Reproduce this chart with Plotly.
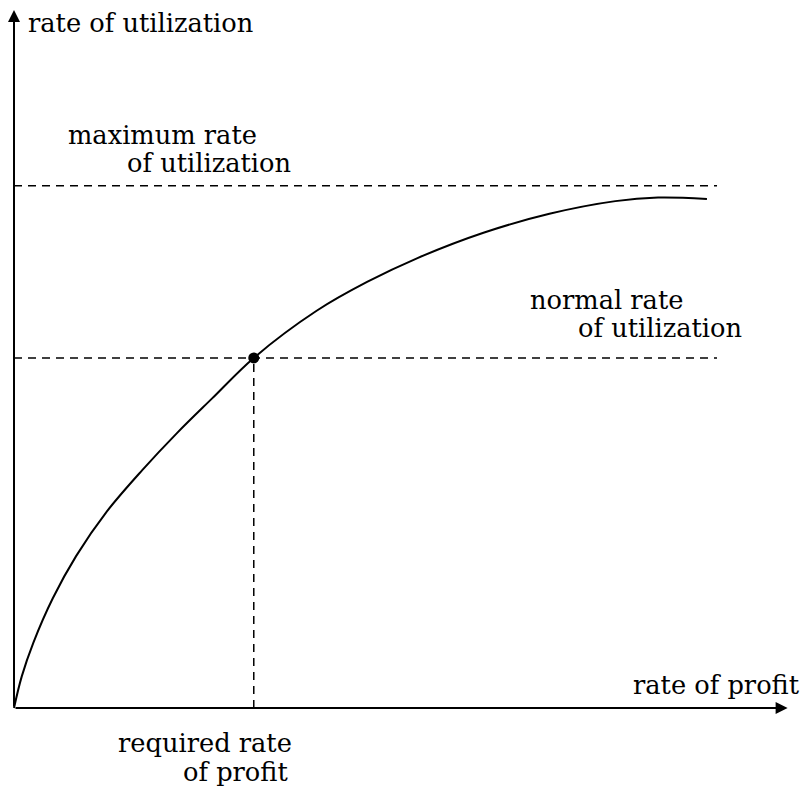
import plotly.graph_objects as go

# ---- data (arbitrary units) ----
profit_rate = [0.0, 0.10, 0.25, 0.50, 0.80, 1.20, 1.65, 2.10, 2.55, 3.09,
               3.90, 4.55, 5.20, 6.05, 6.90, 7.75, 8.30, 8.93]
utilization = [0.0, 0.45, 0.93, 1.56, 2.16, 2.80, 3.38, 3.91, 4.40, 4.98,
               5.65, 6.06, 6.40, 6.76, 7.03, 7.21, 7.26, 7.24]
required_profit = 3.09
normal_util = 4.98
max_util = 7.43
dash_end = 9.06
x_axis_end = 9.97
y_axis_end = 9.93

FONT = "DejaVu Serif"
FS = 25.7

fig = go.Figure()

dash_style = dict(color="black", width=1.5, dash="8px,6px")
# dashed reference lines
fig.add_trace(go.Scatter(x=[0, dash_end], y=[max_util, max_util], mode="lines",
                         line=dash_style, hoverinfo="skip"))
fig.add_trace(go.Scatter(x=[0, dash_end], y=[normal_util, normal_util], mode="lines",
                         line=dash_style, hoverinfo="skip"))
fig.add_trace(go.Scatter(x=[required_profit, required_profit], y=[0, normal_util], mode="lines",
                         line=dash_style, hoverinfo="skip"))

# curve
fig.add_trace(go.Scatter(x=profit_rate, y=utilization, mode="lines",
                         line=dict(color="black", width=2, shape="spline", smoothing=1.0),
                         hoverinfo="skip"))

# point
fig.add_trace(go.Scatter(x=[required_profit], y=[normal_util], mode="markers",
                         marker=dict(color="black", size=11), hoverinfo="skip"))

# axes with arrows
fig.add_annotation(x=x_axis_end, y=0, ax=0, ay=0, xref="x", yref="y", axref="x", ayref="y",
                   text="", showarrow=True, arrowhead=2, arrowsize=1.2, arrowwidth=2,
                   arrowcolor="black")
fig.add_annotation(x=0, y=y_axis_end, ax=0, ay=0, xref="x", yref="y", axref="x", ayref="y",
                   text="", showarrow=True, arrowhead=2, arrowsize=1.2, arrowwidth=2,
                   arrowcolor="black")

def label(text, x, y, xanchor="left"):
    fig.add_annotation(x=x, y=y, xref="x", yref="y", text=text, showarrow=False,
                       xanchor=xanchor, yanchor="bottom",
                       font=dict(family=FONT, size=FS, color="black"))

label("rate of utilization", 0.155, 9.50)
label("maximum rate", 0.675, 7.91)
label("of utilization", 1.43, 7.51)
label("normal rate", 6.625, 5.56)
label("of utilization", 7.245, 5.16)
label("rate of profit", 10.15, 0.085, xanchor="right")
label("required rate", 1.315, -0.74)
label("of profit", 2.155, -1.152)

# page body adds an 8px offset; ranges compensate so origin lands where the reference has it
fig.update_layout(
    width=812, height=788,
    margin=dict(l=0, r=0, t=0, b=0),
    paper_bgcolor="white", plot_bgcolor="white",
    showlegend=False,
    xaxis=dict(range=[-0.0773, 10.387], visible=False, fixedrange=True),
    yaxis=dict(range=[-1.252, 9.957], visible=False, fixedrange=True),
)

fig.write_html("out.html")
